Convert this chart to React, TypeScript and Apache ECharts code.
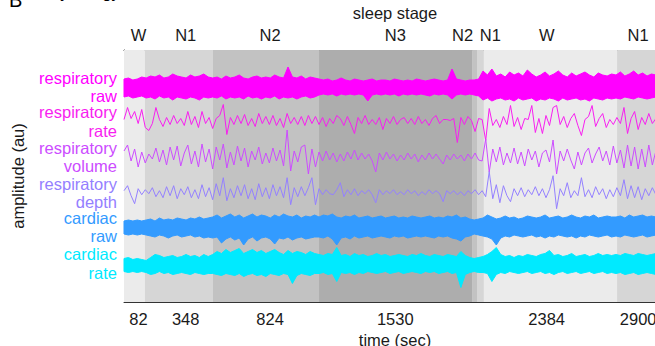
import React, { useEffect, useRef } from 'react';
import * as echarts from 'echarts';

// ---- sleep stages (seconds) ----
const stageNames = ['W', 'N1', 'N2', 'N3', 'N2', 'N1', 'W', 'N1'];
const stageStarts = [0, 118, 502, 1100, 1963, 1991, 2030, 2781];
const stageEnds = [118, 502, 1100, 1963, 1991, 2030, 2781, 3000];
const stageCenters = [82, 348, 824, 1530, 1977, 2010, 2384, 2900];
const timeTickLabels = [82, 348, 824, 1530, 2384, 2900];
const stageColors: Record<string, string> = { W: '#ebebeb', N1: '#d6d6d6', N2: '#c2c2c2', N3: '#adadad' };

// ---- traces ----
const traceLabels = [
  ['respiratory', 'raw'],
  ['respiratory', 'rate'],
  ['respiratory', 'volume'],
  ['respiratory', 'depth'],
  ['cardiac', 'raw'],
  ['cardiac', 'rate'],
];
const traceColors = ['#ff00ff', '#f81ef0', '#cc4cff', '#9480ff', '#339bff', '#00eaff'];
const traceOffsets = [215, 180.5, 145, 109.3, 75, 38.5];

// band sampling every 25 s (0..3000), line sampling every 20 s (0..3000)
const bandTimes = Array.from({ length: 121 }, (_, i) => i * 25);
const lineTimes = Array.from({ length: 151 }, (_, j) => j * 20);

const respRawHi = [8, 9, 7, 8, 10,
  9, 11, 10, 12, 9, 10, 13, 11, 10, 9, 12, 10, 11, 13, 10,
  9, 10, 8, 11, 9, 10, 12, 9, 8, 10, 11, 9, 10, 9, 12, 10, 9, 20, 10, 9, 11, 8, 10, 9,
  8, 7, 8, 6, 7, 9, 7, 6, 8, 7, 6, 7, 8, 6, 7, 7, 6, 8, 7, 6, 7, 6, 8, 7, 6, 7, 8, 7, 6, 7, 18, 8, 7, 6, 7,
  7, 8,
  16, 12, 18, 11, 13, 10, 15, 12, 14, 11, 17, 13, 10, 12, 15, 11, 13, 16, 12, 10, 14, 11, 13, 15, 12, 10, 14, 12, 11, 13,
  12, 15, 11, 13, 16, 12, 14, 11, 13, 12];
const respRawLo = [-10, -9, -11, -10, -9,
  -11, -10, -12, -9, -11, -10, -13, -10, -11, -12, -10, -11, -13, -10, -11,
  -10, -11, -9, -12, -10, -11, -10, -12, -9, -11, -10, -12, -10, -11, -9, -12, -10, -11, -10, -12, -10, -9, -11, -10,
  -8, -7, -8, -7, -9, -7, -8, -7, -8, -7, -8, -14, -8, -7, -8, -7, -8, -7, -9, -7, -8, -7, -8, -7, -8, -9, -7, -8, -7, -8, -12, -8, -7, -8, -7,
  -8, -9,
  -13, -11, -14, -12, -11, -13, -12, -14, -11, -13, -12, -11, -14, -12, -13, -11, -12, -14, -11, -13, -12, -11, -13, -12, -14, -11, -12, -13, -11, -12,
  -11, -12, -10, -11, -12, -10, -11, -12, -11, -10];

const respRate = [2, 14, 3, 10, -2, 12,
  -6, -9, -2, 14,
  2, -5, 4, -3, 6, -2, 3, -4,
  10,
  -3, 5, -6, 10,
  -2, 4, -7, 3, 6,
  17, -13,
  4, -3, 6, -2, 7, -4, 3, -5, 8, -2, 5,
  -3, 6, -4, 3, -6, 8, -2, 4, -3, 5,
  -4, 6, -2, 5, -3, 4, -5, 3, -2, 6,
  3, -4, 5, -3, -12, 4, -2, 6, -3, 2,
  -3, 4, -8, 3, -2, 5, -3, 2, 4, -2,
  3, -3, 5, -2, 2, -4, 3, 6, -2, 2,
  2, 1, 3, -21, 4, -3, 5, 1, -10, 3,
  2, -19, 13, -4, 2, -6, 5, -3, 16, -5,
  4, -8, 3, 2, 16, -11, 3, -12, 6, -4,
  14, 16, -3, 5, -6, 3, 8, -4, -14, 2,
  5, 16, -5, 3, 8, -6, 2, -3, 4, -2,
  14, -12, 3, 10, -8, 4, -3, 8, -2, 3];

const respVolume = [6, 12, -4, 8, -10, 5,
  -6, 3, -2, 9, -5,
  7, -8, 10, -3, 11, -9, 4, 12, -7, 6,
  -10, 13, -5, 8, -12, 10, -3, 13, -11, 5,
  -8, 11, -4, 9, -10, 6, -3, 10, -7, 4,
  -6, 9, -4, 7, -9, 27, -14, 6, -5, 10,
  12, -17, 8, -10, 5, -4, 6, -3, 4, -5,
  3, -4, 5, -2, 7, -3, 4, -2, 3, -4,
  -15, 4, -3, 5, -2, 3, -4, 2, -3, 4,
  -2, 3, -5, 2, -3, 4, -2, 3, -2, -7,
  2, -3, 3, -2, 2, -4, 3, -2, 4, -3,
  -4, 18, -15, 8, -5, 10, -8, 4, -6, 9,
  -7, 5, -9, 8, -3, 6, -10, 4, 7, -5,
  17, -17, 6, -4, 8, -3, -12, 5, -8, 4,
  9, -6, 3, 10, -4, 6, -8, 11, -6, 7,
  -11, 12, -9, 10, -12, 8, -10, 12, -8, 6];

const respDepth = [2, 7, -3, -11, 4, -2,
  3, -1, 5, -4, 2,
  -5, 6, -3, 7, -6, 4, -2, 6, -5, 3,
  -6, 8, -4, 5, -7, 9, -3, 15, -8, 4,
  -5, 7, -3, 8, -6, 4, -7, 9, -4, 5,
  -6, 8, -3, 6, -5, 15, -12, 5, -4, 6,
  -3, 5, 15, -12, 4, -2, 3, -1, -2, 3,
  10, -4, 3, -2, 4, -3, 2, -1, 3, -2,
  -10, 3, -2, 2, -1, 3, -2, 1, -2, 3,
  -1, 2, -3, 1, -2, 3, -1, 2, -1, -9,
  2, -1, 2, -2, 1, -3, 2, -1, 3, -2,
  2, -4, 21, -6, 8, -10, 7, -3, -9, 4,
  -3, 5, -4, 3, -2, 6, -3, 4, -5, 3,
  17, -16, 4, -3, 10, -5, 2, -3, 15, -4,
  3, -5, 6, -2, 4, -6, 3, -4, 5, -3,
  13, -6, 7, -5, 6, -7, 4, -3, 5, -2];

const cardiacRawHi = [6, 7, 6, 7, 6,
  7, 8, 6, 9, 7, 8, 7, 9, 8, 7, 9, 8, 10, 8, 9,
  10, 12, 9, 11, 13, 10, 12, 9, 11, 13, 10, 12, 11, 9, 12, 10, 13, 11, 10, 12, 9, 11, 10, 12,
  10, 12, 11, 13, 10, 9, 11, 10, 12, 9, 10, 11, 9, 10, 11, 9, 10, 11, 9, 10, 9, 11, 10, 9, 10, 11, 9, 10, 9, 11, 10, 12, 9, 10, 8,
  7, 8,
  9, 12, 10, 8, 9, 11, 9, 10, 8, 9, 11, 10, 9, 10, 12, 9, 10, 11, 9, 10, 12, 10, 9, 11, 10, 12, 9, 10, 11, 10,
  10, 11, 9, 12, 10, 11, 12, 10, 11, 10];
const cardiacRawLo = [-7, -8, -7, -8, -7,
  -8, -9, -10, -8, -9, -11, -9, -8, -10, -9, -8, -10, -9, -11, -10,
  -11, -10, -16, -12, -10, -13, -11, -18, -12, -10, -14, -11, -10, -12, -17, -11, -12, -10, -13, -11, -10, -12, -11, -10,
  -10, -11, -9, -12, -18, -11, -10, -12, -9, -11, -10, -9, -11, -10, -9, -10, -11, -9, -10, -9, -11, -10, -9, -10, -9, -10, -11, -9, -10, -9, -11, -12, -14, -10, -9,
  -7, -8,
  -9, -10, -12, -18, -11, -9, -10, -8, -9, -10, -9, -8, -10, -9, -11, -9, -10, -8, -9, -10, -9, -11, -9, -10, -8, -9, -10, -9, -8, -10,
  -9, -10, -8, -9, -10, -9, -8, -10, -9, -8];

const cardiacRateHi = [5, 6, 4, 5, 4,
  3, 6, 9, 8, 6, 7, 8, 6, 7, 9, 7, 8, 6, 9, 7,
  9, 12, 10, 14, 11, 13, 15, 10, 12, 14, 11, 13, 10, 12, 14, 11, 9, 13, 10, 12, 11, 9, 12, 10,
  9, 8, 10, 9, 16, 8, 9, 7, 10, 8, 9, 7, 8, 10, 8, 9, 7, 8, 9, 8, 7, 9, 8, 10, 8, 7, 9, 8, 7, 9, 8, 7, 12, 8, 6,
  5, 6,
  7, 9, 12, 16, 9, 7, 8, 6, 8, 7, 9, 8, 7, 9, 10, 13, 8, 9, 7, 8, 10, 7, 8, 9, 7, 8, 10, 8, 9, 8,
  9, 8, 10, 9, 8, 10, 9, 8, 9, 10];
const cardiacRateLo = [-8, -9, -8, -9, -8,
  -9, -11, -10, -8, -10, -9, -11, -10, -9, -10, -11, -9, -10, -11, -10,
  -10, -11, -12, -10, -11, -12, -10, -13, -11, -10, -12, -11, -13, -10, -11, -12, -10, -11, -20, -12, -10, -11, -12, -10,
  -10, -9, -11, -10, -18, -9, -10, -9, -11, -9, -10, -8, -9, -10, -9, -8, -10, -9, -8, -10, -9, -8, -9, -10, -8, -9, -8, -10, -9, -8, -10, -9, -24, -11, -9,
  -8, -9,
  -9, -10, -18, -11, -9, -10, -8, -9, -10, -9, -8, -10, -9, -8, -10, -9, -11, -9, -8, -10, -9, -8, -10, -9, -8, -10, -9, -8, -10, -9,
  -10, -9, -11, -10, -9, -11, -10, -9, -10, -11];

const FONT = '"Liberation Sans", Arial, Helvetica, sans-serif';
const FS = 16.5;
const INK = '#1a1a1a';
const AXIS = '#333333';

// filled envelope (hi / lo) drawn as a polygon through the axes' scales
function bandSeries(color: string, offset: number, hi: number[], lo: number[]) {
  return {
    type: 'custom', silent: true, z: 3, xAxisIndex: 0, yAxisIndex: 0,
    data: [[0, offset]],
    renderItem: (_params: any, api: any) => {
      const top = bandTimes.map((t, i) => api.coord([t, offset + hi[i]]));
      const bottom = bandTimes.map((t, i) => api.coord([t, offset + lo[i]])).reverse();
      return {
        type: 'polygon',
        shape: { points: top.concat(bottom) },
        style: { fill: color, stroke: color, lineWidth: 1 },
      };
    },
  };
}

function lineSeries(color: string, offset: number, vals: number[]) {
  return {
    type: 'line', symbol: 'none', silent: true, z: 3,
    lineStyle: { color, width: 1 },
    data: lineTimes.map((t, j) => [t, offset + vals[j]]),
  };
}

const titleGraphics = [
  { type: 'text', x: 9, y: 10, silent: true, style: { text: 'B', fontSize: 20, fontFamily: FONT, fill: '#000', verticalAlign: 'bottom' } },
  { type: 'text', x: 40, y: 0, silent: true, style: { text: 'Physiology', fontSize: FS, fontFamily: FONT, fill: '#000', verticalAlign: 'bottom' } },
];

export default function App() {
  const ref = useRef<HTMLDivElement>(null);
  useEffect(() => {
    if (!ref.current) return;
    const chart = echarts.init(ref.current, undefined, { renderer: 'svg' });
    const stageRich = {
      n: { fontSize: FS, fontFamily: FONT, color: INK },
      l: { fontSize: FS, fontFamily: FONT, color: INK, padding: [0, 24, 0, 0] },
      r: { fontSize: FS, fontFamily: FONT, color: INK, padding: [0, 0, 0, 20] },
    };
    const option: any = {
      animation: false,
      backgroundColor: '#ffffff',
      grid: { left: 124, right: -11, top: 50, bottom: 44, containLabel: false, outerBoundsMode: 'none' },
      xAxis: [
        {
          type: 'value', position: 'bottom', min: 0, max: 3057,
          name: 'time (sec)', nameLocation: 'middle', nameGap: 22,
          nameTextStyle: { fontSize: FS, fontFamily: FONT, color: INK },
          axisLine: { show: true, lineStyle: { color: AXIS, width: 1 } },
          axisTick: { show: true, inside: true, length: 7, customValues: stageCenters, lineStyle: { color: AXIS } },
          axisLabel: {
            customValues: timeTickLabels, fontSize: FS, fontFamily: FONT, color: INK, margin: 8,
            formatter: (v: number) => String(v),
          },
          splitLine: { show: false },
        },
        {
          type: 'value', position: 'top', min: 0, max: 3057,
          name: 'sleep stage', nameLocation: 'middle', nameGap: 27,
          nameTextStyle: { fontSize: FS, fontFamily: FONT, color: INK },
          axisLine: { show: true, lineStyle: { color: AXIS, width: 1 } },
          axisTick: { show: true, inside: true, length: 7, customValues: stageCenters, lineStyle: { color: AXIS } },
          axisLabel: {
            customValues: stageCenters, margin: 7, rich: stageRich,
            formatter: (v: number) => {
              const k = stageCenters.indexOf(v);
              const name = stageNames[k] ?? '';
              if (k === 4) return '{l|' + name + '}';
              if (k === 5) return '{r|' + name + '}';
              return '{n|' + name + '}';
            },
          },
          splitLine: { show: false },
        },
      ],
      yAxis: {
        type: 'value', min: 0, max: 252,
        name: 'amplitude (au)', nameLocation: 'middle', nameGap: 98, nameRotate: 90,
        nameTextStyle: { fontSize: FS, fontFamily: FONT, color: INK },
        axisLine: { show: true, lineStyle: { color: AXIS, width: 1 } },
        axisTick: { show: false },
        splitLine: { show: false },
        axisLabel: { show: false },
      },
      graphic: titleGraphics,
      series: [
        {
          type: 'line', data: [], z: 1, silent: true,
          markArea: {
            silent: true,
            data: stageStarts.map((s, k) => [
              { xAxis: s, itemStyle: { color: stageColors[stageNames[k]] } },
              { xAxis: stageEnds[k] },
            ]),
          },
        },
        lineSeries(traceColors[1], traceOffsets[1], respRate),
        lineSeries(traceColors[2], traceOffsets[2], respVolume),
        lineSeries(traceColors[3], traceOffsets[3], respDepth),
        bandSeries(traceColors[0], traceOffsets[0], respRawHi, respRawLo),
        bandSeries(traceColors[4], traceOffsets[4], cardiacRawHi, cardiacRawLo),
        bandSeries(traceColors[5], traceOffsets[5], cardiacRateHi, cardiacRateLo),
      ],
    };
    chart.setOption(option);
    // trace labels, placed at each trace's baseline through the y axis
    const axisX = chart.convertToPixel({ xAxisIndex: 0 }, 0) as number;
    const labelGraphics = traceOffsets.map((off, k) => ({
      type: 'text', silent: true,
      x: axisX - 7,
      y: chart.convertToPixel({ yAxisIndex: 0 }, off) as number,
      style: {
        text: traceLabels[k].join('\n'), fill: traceColors[k], fontSize: FS, fontFamily: FONT,
        align: 'right', verticalAlign: 'middle', lineHeight: 18.3,
      },
    }));
    chart.setOption({ graphic: [...titleGraphics, ...labelGraphics] });
    return () => chart.dispose();
  }, []);
  return (
    <div
      ref={ref}
      style={{ position: 'fixed', left: 0, top: 0, width: 655, height: 346, background: '#fff' }}
    />
  );
}
